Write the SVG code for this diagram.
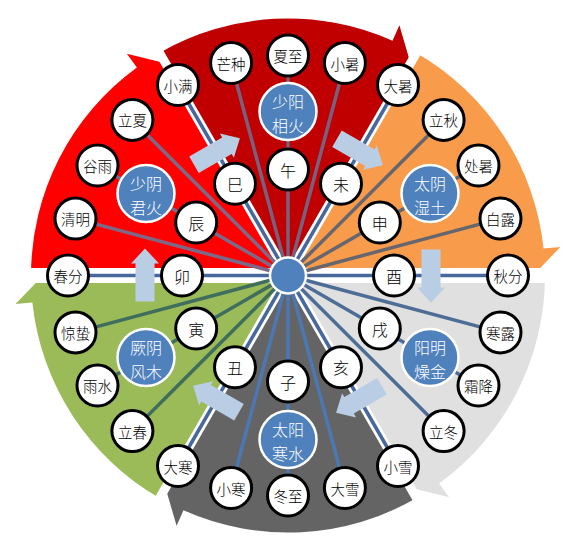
<svg xmlns="http://www.w3.org/2000/svg" width="582" height="552" viewBox="0 0 582 552">
<style>
.t{font-family:"Noto Sans CJK SC","Noto Sans",sans-serif;font-weight:300;text-anchor:middle;dominant-baseline:central}
.n circle{fill:#fff;stroke:#000;stroke-width:3}
.n text{font-size:14.5px;fill:#000}
.b circle{fill:#fff;stroke:#000;stroke-width:3}
.b text{font-size:16px;fill:#000}
.q circle{fill:#4f81bd;stroke:#fff;stroke-width:2.5}
.q text{font-size:16px;fill:#fff}
.gap{stroke:#fff;stroke-linecap:butt}
#connectors line{stroke-width:3.5}
.bd{stroke:#46689c}
.r1{stroke:#7e6888}
.r2{stroke:#76627f}
.o{stroke:#67666e}
.lg{stroke:#4d6d96}
.dg{stroke:#4b77b5}
.g{stroke:#3f6e5c}
.fa{fill:#b9cde5}
</style>
<defs>
<path id="fa" d="M-26,-9.5 L12,-9.5 L12,-14 L27,0 L12,14 L12,9.5 L-26,9.5 Z"/>
</defs>
<g id="sectors">
<path id="sec-jueyin" fill="#9bbb59" d="M288,275.5 L159.5,498.1 A257,257 0 0 1 32.4,302.4 L15.5,304.1 L43,275.5 Z"/>
<path id="sec-shaoyin" fill="#ff0000" d="M288,275.5 L31,275.5 A257,257 0 0 1 136.9,67.6 L126.9,53.8 L165.5,63.3 Z"/>
<path id="sec-shaoyang" fill="#c00000" d="M288,275.5 L159.5,52.9 A257,257 0 0 1 392.5,40.7 L399.4,25.2 L410.5,63.3 Z"/>
<path id="sec-taiyin" fill="#f89c4c" d="M288,275.5 L416.5,52.9 A257,257 0 0 1 543.6,248.6 L560.5,246.9 L533,275.5 Z"/>
<path id="sec-yangming" fill="#e0e0e0" d="M288,275.5 L545,275.5 A257,257 0 0 1 439.1,483.4 L449.1,497.2 L410.5,487.7 Z"/>
<path id="sec-taiyang" fill="#646464" d="M288,275.5 L416.5,498.1 A257,257 0 0 1 183.5,510.3 L176.6,525.8 L165.5,487.7 Z"/>
</g>
<g id="gaps" class="gap">
<line x1="22" y1="275.5" x2="554" y2="275.5" stroke-width="15"/>
<line x1="288" y1="275.5" x2="157" y2="48.6" stroke-width="9"/>
<line x1="288" y1="275.5" x2="419" y2="48.6" stroke-width="9"/>
<line x1="288" y1="275.5" x2="419" y2="502.4" stroke-width="9"/>
<line x1="288" y1="275.5" x2="157" y2="502.4" stroke-width="9"/>
</g>
<g id="connectors">
<line class="bd" x1="288" y1="275.5" x2="508" y2="275.5"/>
<line class="o" x1="288" y1="275.5" x2="500.5" y2="218.6"/>
<line class="o" x1="288" y1="275.5" x2="478.5" y2="165.5"/>
<line class="o" x1="288" y1="275.5" x2="443.6" y2="119.9"/>
<line class="bd" x1="288" y1="275.5" x2="398" y2="85"/>
<line class="r2" x1="288" y1="275.5" x2="344.9" y2="63"/>
<line class="r2" x1="288" y1="275.5" x2="288" y2="55.5"/>
<line class="r2" x1="288" y1="275.5" x2="231.1" y2="63"/>
<line class="bd" x1="288" y1="275.5" x2="178" y2="85"/>
<line class="r1" x1="288" y1="275.5" x2="132.4" y2="119.9"/>
<line class="r1" x1="288" y1="275.5" x2="97.5" y2="165.5"/>
<line class="r1" x1="288" y1="275.5" x2="75.5" y2="218.6"/>
<line class="bd" x1="288" y1="275.5" x2="68" y2="275.5"/>
<line class="g" x1="288" y1="275.5" x2="75.5" y2="332.4"/>
<line class="g" x1="288" y1="275.5" x2="97.5" y2="385.5"/>
<line class="g" x1="288" y1="275.5" x2="132.4" y2="431.1"/>
<line class="bd" x1="288" y1="275.5" x2="178" y2="466"/>
<line class="dg" x1="288" y1="275.5" x2="231.1" y2="488"/>
<line class="dg" x1="288" y1="275.5" x2="288" y2="495.5"/>
<line class="dg" x1="288" y1="275.5" x2="344.9" y2="488"/>
<line class="bd" x1="288" y1="275.5" x2="398" y2="466"/>
<line class="lg" x1="288" y1="275.5" x2="443.6" y2="431.1"/>
<line class="lg" x1="288" y1="275.5" x2="478.5" y2="385.5"/>
<line class="lg" x1="288" y1="275.5" x2="500.5" y2="332.4"/>
</g>
<g id="flow-arrows" class="fa">
<use href="#fa" transform="translate(145,275.5) rotate(-90)"/>
<use href="#fa" transform="translate(216.5,151.7) rotate(-30)"/>
<use href="#fa" transform="translate(359.5,151.7) rotate(30)"/>
<use href="#fa" transform="translate(431,275.5) rotate(90)"/>
<use href="#fa" transform="translate(359.5,399.3) rotate(150)"/>
<use href="#fa" transform="translate(216.5,399.3) rotate(210)"/>
</g>
<g id="hub"><circle cx="288" cy="275.5" r="18" fill="#4f81bd" stroke="#fff" stroke-width="2.5"/></g>
<g class="t">
<g id="q-shaoyin" class="q"><circle cx="146" cy="193.5" r="28.5"/><text x="146" y="182.5">少阴</text><text x="146" y="207">君火</text></g>
<g id="q-shaoyang" class="q"><circle cx="288" cy="111.5" r="28.5"/><text x="288" y="100.5">少阳</text><text x="288" y="125">相火</text></g>
<g id="q-taiyin" class="q"><circle cx="430" cy="193.5" r="28.5"/><text x="430" y="182.5">太阴</text><text x="430" y="207">湿土</text></g>
<g id="q-yangming" class="q"><circle cx="430" cy="357.5" r="28.5"/><text x="430" y="346.5">阳明</text><text x="430" y="371">燥金</text></g>
<g id="q-taiyang" class="q"><circle cx="288" cy="439.5" r="28.5"/><text x="288" y="428.5">太阳</text><text x="288" y="453">寒水</text></g>
<g id="q-jueyin" class="q"><circle cx="146" cy="357.5" r="28.5"/><text x="146" y="346.5">厥阴</text><text x="146" y="371">风木</text></g>

<g id="b-you" class="b"><circle cx="394" cy="275.5" r="20.5"/><text x="394" y="275.5">酉</text></g>
<g id="b-shen" class="b"><circle cx="379.8" cy="222.5" r="20.5"/><text x="379.8" y="222.5">申</text></g>
<g id="b-wei" class="b"><circle cx="341" cy="183.7" r="20.5"/><text x="341" y="183.7">未</text></g>
<g id="b-wu" class="b"><circle cx="288" cy="169.5" r="20.5"/><text x="288" y="169.5">午</text></g>
<g id="b-si" class="b"><circle cx="235" cy="183.7" r="20.5"/><text x="235" y="183.7">巳</text></g>
<g id="b-chen" class="b"><circle cx="196.2" cy="222.5" r="20.5"/><text x="196.2" y="222.5">辰</text></g>
<g id="b-mao" class="b"><circle cx="182" cy="275.5" r="20.5"/><text x="182" y="275.5">卯</text></g>
<g id="b-yin" class="b"><circle cx="196.2" cy="328.5" r="20.5"/><text x="196.2" y="328.5">寅</text></g>
<g id="b-chou" class="b"><circle cx="235" cy="367.3" r="20.5"/><text x="235" y="367.3">丑</text></g>
<g id="b-zi" class="b"><circle cx="288" cy="381.5" r="20.5"/><text x="288" y="381.5">子</text></g>
<g id="b-hai" class="b"><circle cx="341" cy="367.3" r="20.5"/><text x="341" y="367.3">亥</text></g>
<g id="b-xu" class="b"><circle cx="379.8" cy="328.5" r="20.5"/><text x="379.8" y="328.5">戌</text></g>

<g id="n-qiufen" class="n"><circle cx="508" cy="275.5" r="20.5"/><text x="508" y="275.5">秋分</text></g>
<g id="n-bailu" class="n"><circle cx="500.5" cy="218.6" r="20.5"/><text x="500.5" y="218.6">白露</text></g>
<g id="n-chushu" class="n"><circle cx="478.5" cy="165.5" r="20.5"/><text x="478.5" y="165.5">处暑</text></g>
<g id="n-liqiu" class="n"><circle cx="443.6" cy="119.9" r="20.5"/><text x="443.6" y="119.9">立秋</text></g>
<g id="n-dashu" class="n"><circle cx="398" cy="85" r="20.5"/><text x="398" y="85">大暑</text></g>
<g id="n-xiaoshu" class="n"><circle cx="344.9" cy="63" r="20.5"/><text x="344.9" y="63">小暑</text></g>
<g id="n-xiazhi" class="n"><circle cx="288" cy="55.5" r="20.5"/><text x="288" y="55.5">夏至</text></g>
<g id="n-mangzhong" class="n"><circle cx="231.1" cy="63" r="20.5"/><text x="231.1" y="63">芒种</text></g>
<g id="n-xiaoman" class="n"><circle cx="178" cy="85" r="20.5"/><text x="178" y="85">小满</text></g>
<g id="n-lixia" class="n"><circle cx="132.4" cy="119.9" r="20.5"/><text x="132.4" y="119.9">立夏</text></g>
<g id="n-guyu" class="n"><circle cx="97.5" cy="165.5" r="20.5"/><text x="97.5" y="165.5">谷雨</text></g>
<g id="n-qingming" class="n"><circle cx="75.5" cy="218.6" r="20.5"/><text x="75.5" y="218.6">清明</text></g>
<g id="n-chunfen" class="n"><circle cx="68" cy="275.5" r="20.5"/><text x="68" y="275.5">春分</text></g>
<g id="n-jingzhe" class="n"><circle cx="75.5" cy="332.4" r="20.5"/><text x="75.5" y="332.4">惊蛰</text></g>
<g id="n-yushui" class="n"><circle cx="97.5" cy="385.5" r="20.5"/><text x="97.5" y="385.5">雨水</text></g>
<g id="n-lichun" class="n"><circle cx="132.4" cy="431.1" r="20.5"/><text x="132.4" y="431.1">立春</text></g>
<g id="n-dahan" class="n"><circle cx="178" cy="466" r="20.5"/><text x="178" y="466">大寒</text></g>
<g id="n-xiaohan" class="n"><circle cx="231.1" cy="488" r="20.5"/><text x="231.1" y="488">小寒</text></g>
<g id="n-dongzhi" class="n"><circle cx="288" cy="495.5" r="20.5"/><text x="288" y="495.5">冬至</text></g>
<g id="n-daxue" class="n"><circle cx="344.9" cy="488" r="20.5"/><text x="344.9" y="488">大雪</text></g>
<g id="n-xiaoxue" class="n"><circle cx="398" cy="466" r="20.5"/><text x="398" y="466">小雪</text></g>
<g id="n-lidong" class="n"><circle cx="443.6" cy="431.1" r="20.5"/><text x="443.6" y="431.1">立冬</text></g>
<g id="n-shuangjiang" class="n"><circle cx="478.5" cy="385.5" r="20.5"/><text x="478.5" y="385.5">霜降</text></g>
<g id="n-hanlu" class="n"><circle cx="500.5" cy="332.4" r="20.5"/><text x="500.5" y="332.4">寒露</text></g>
</g>
</svg>
